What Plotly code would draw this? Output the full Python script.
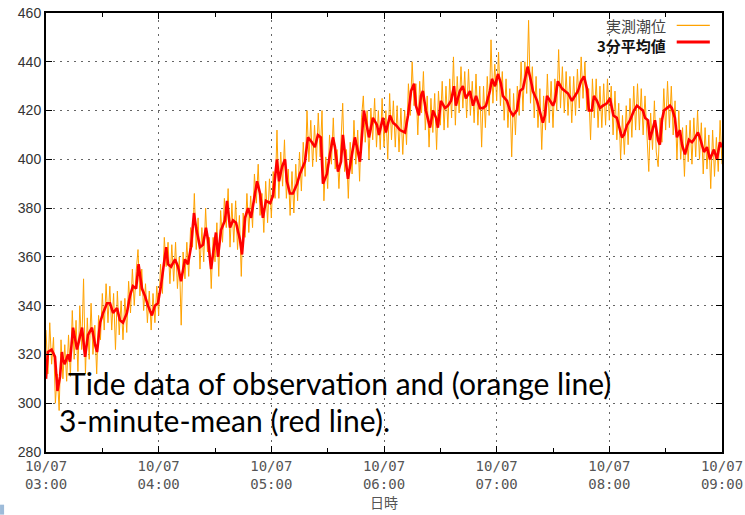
import pandas as pd
import plotly.graph_objects as go

# ---------------- data ----------------
start = pd.Timestamp("2019-10-07 03:00")
end = pd.Timestamp("2019-10-07 09:00")

# 3-minute mean (red) : minutes after 03:00 and tide level (cm)
red_min_h1 = [0, 1, 3, 4.8, 6.1, 7.5, 8.5, 9, 10, 11.7, 12.8, 14.4, 16.5, 18.1, 19.2, 20.8, 22.4, 24.5, 26.1, 27.2,
              28.8, 30.4, 32.5, 34.1, 35.7, 37.8, 39.4, 41, 43.1, 44.7, 46.3, 48, 49.3, 51.1, 52.7, 54.3, 56.4, 58, 59.6]
red_val_h1 = [310, 321, 322, 319, 305, 311, 321, 318, 316, 320, 317, 331, 322, 328, 331, 319, 328, 331, 324, 321,
              333, 337, 341, 341, 337, 339, 334, 333, 337, 344, 348, 347, 357, 347, 344, 340, 336, 340, 341]
red_min_h2 = [61.2, 63, 64, 65, 66.6, 68.7, 70.3, 71.9, 74, 75.6, 77.2, 78.8, 79.9, 82, 83.6, 85.2, 86.3, 87.9, 88.9, 90.5,
              91.6, 93.2, 95.3, 96.4, 98, 99.6, 101.2, 103.3, 104.4, 106, 107.6, 109.2, 111.3, 112.4, 114, 115.5, 117.1, 119.3]
red_val_h2 = [348, 359, 364, 357, 356, 359, 356, 350, 359, 357, 364, 378, 372, 364, 365, 372, 367, 355, 360, 370,
              360, 371, 375, 383, 372, 375, 374, 367, 361, 376, 380, 376, 386, 391, 386, 376, 383, 382]
red_min_h3 = [120.9, 123, 124.1, 125.7, 127.3, 128.3, 129.9, 131.5, 133.7, 135.2, 137.9, 139.5, 141.6, 143.2, 144.8,
              146.4, 147.5, 149.6, 151.2, 152.8, 153.9, 155.5, 157.1, 158.1, 159.7, 160.8, 162.9, 164.5, 165.6, 167.2,
              169.3, 170.9, 172, 174.1, 176.3, 177.3, 179.4]
red_val_h3 = [385, 400, 391, 397, 400, 391, 386, 386, 390, 394, 399, 409, 407, 405, 410,
              409, 390, 394, 402, 409, 405, 395, 399, 410, 399, 392, 402, 409, 405, 399,
              420, 413, 409, 417, 414, 410, 417]
red_min_h4 = [181, 183.2, 184.8, 186.4, 188.5, 191.2, 192.8, 194.4, 196, 197, 198.6, 199.7, 200.7, 202.3, 204.5,
              206.1, 207.7, 208.7, 210.3, 212.5, 214.1, 215.7, 217.3, 218.3, 220.4, 222, 223.6, 225.8, 227.4, 229,
              231.1, 232.7, 234.3, 236.4, 237.5, 239.1, 240.7, 242.3]
red_val_h4 = [411, 418, 415, 414, 412, 411, 418, 428, 431, 422, 418, 426, 428, 420, 413,
              420, 417, 413, 424, 421, 422, 424, 430, 422, 428, 430, 425, 428, 422, 426,
              421, 421, 422, 428, 433, 430, 435, 431]
red_min_h5 = [243.3, 245.5, 247.1, 248.7, 250.8, 252.4, 254, 256.5, 258.3, 259.3, 261.5, 263, 264.6, 265.7, 266.8,
              268.4, 270, 271, 272.6, 274.8, 276.4, 278, 280.1, 281.7, 283.3, 284.9, 286.5, 288.1, 289.1, 290.7,
              291.8, 293.4, 295, 296.6, 298.7, 300.3]
red_val_h5 = [426, 424, 420, 418, 420, 428, 429, 438, 432, 428, 424, 420, 415, 418, 426,
              424, 422, 424, 432, 429, 428, 427, 424, 426, 428, 432, 434, 429, 420, 420,
              426, 424, 421, 422, 423, 425]
red_min_h6 = [302.2, 304, 305.6, 306.7, 307.8, 309.4, 311, 313.1, 314.7, 316.3, 317.9, 319, 320.6, 321.6, 323.2,
              324.3, 325.9, 326.9, 328, 329.1, 330.7, 332.3, 333.3, 334.9, 336, 337.6, 338.7, 340.3, 342.4, 344,
              345, 347.2, 348.2, 350.4, 352, 353.6, 355.7, 357.3, 358.9, 360]
red_val_h6 = [418, 417, 412, 409, 410, 414, 416, 420, 422, 421, 420, 417, 416, 408, 413,
              416, 408, 406, 416, 420, 421, 422, 421, 417, 409, 412, 406, 402, 408, 407,
              408, 411, 409, 403, 405, 400, 404, 400, 407, 405]

# observed tide (orange) : one value per minute from 03:00 to 09:00
obs_h1 = [330, 312, 333, 316, 327, 300, 312, 297, 326, 310, 324, 309, 328, 311, 338, 318, 334, 313, 340, 322,
          351, 312, 335, 318, 341, 320, 332, 312, 336, 326, 345, 330, 349, 333, 348, 330, 345, 322, 346, 328,
          342, 326, 343, 329, 350, 337, 355, 340, 354, 363, 344, 355, 338, 349, 333, 346, 330, 345, 333, 348]
obs_h2 = [336, 357, 345, 368, 356, 366, 349, 365, 350, 366, 347, 360, 332, 362, 351, 366, 352, 372, 364, 386,
          363, 376, 355, 372, 358, 380, 362, 368, 347, 368, 358, 374, 352, 379, 366, 384, 372, 388, 364, 382,
          366, 383, 363, 377, 352, 378, 368, 386, 370, 385, 372, 394, 382, 398, 377, 386, 370, 391, 374, 392]
obs_h3 = [376, 395, 384, 412, 384, 403, 389, 408, 384, 396, 377, 395, 378, 398, 383, 403, 387, 407, 393, 420,
          399, 416, 397, 414, 399, 419, 401, 420, 383, 401, 388, 410, 398, 417, 396, 404, 388, 407, 423, 395,
          404, 384, 407, 394, 416, 398, 412, 391, 417, 426, 407, 420, 400, 421, 408, 425, 405, 420, 404, 425]
obs_h4 = [405, 420, 400, 427, 408, 424, 405, 422, 403, 421, 402, 420, 406, 431, 418, 440, 422, 431, 410, 432,
          419, 436, 412, 426, 405, 425, 411, 427, 404, 428, 414, 432, 412, 430, 413, 433, 417, 442, 414, 434,
          419, 438, 421, 436, 417, 437, 418, 432, 415, 435, 414, 430, 405, 430, 413, 434, 418, 449, 423, 439]
obs_h5 = [424, 444, 422, 436, 416, 433, 413, 429, 401, 427, 410, 430, 418, 440, 420, 440, 427, 457, 423, 438,
          417, 434, 413, 429, 404, 426, 412, 435, 415, 432, 413, 433, 420, 445, 421, 438, 419, 436, 418, 434,
          415, 434, 418, 437, 421, 442, 425, 440, 420, 429, 408, 433, 417, 433, 413, 430, 413, 431, 414, 433]
obs_h6 = [416, 430, 410, 428, 408, 423, 400, 418, 402, 422, 406, 425, 409, 430, 412, 431, 412, 429, 410, 426,
          407, 395, 419, 404, 424, 403, 397, 417, 407, 429, 412, 432, 413, 430, 410, 424, 400, 420, 400, 413,
          393, 414, 399, 416, 398, 417, 401, 420, 400, 415, 394, 413, 396, 410, 388, 412, 393, 409, 395, 416,
          398]

tick_hours = ["03:00", "04:00", "05:00", "06:00", "07:00", "08:00", "09:00"]
tick_date = "10/07"
y_ticks = [280, 300, 320, 340, 360, 380, 400, 420, 440, 460]
legend_names = ["実測潮位", "3分平均値"]
x_title = "日時"
caption_lines = ["Tide data of observation and (orange line)", "3-minute-mean (red line)."]

# ---------------- build ----------------
red_min = red_min_h1 + red_min_h2 + red_min_h3 + red_min_h4 + red_min_h5 + red_min_h6
red_val = red_val_h1 + red_val_h2 + red_val_h3 + red_val_h4 + red_val_h5 + red_val_h6
obs_val = obs_h1 + obs_h2 + obs_h3 + obs_h4 + obs_h5 + obs_h6

red_t = [start + pd.Timedelta(minutes=m) for m in red_min]
obs_t = [start + pd.Timedelta(minutes=i) for i in range(len(obs_val))]

tickvals = [pd.Timestamp("2019-10-07 " + h) for h in tick_hours]
ticktext = [f"{tick_date}<br>{h}" for h in tick_hours]
minor_vals = [t + pd.Timedelta(minutes=30) for t in tickvals[:-1]]

ORANGE = "#FFA200"
RED = "#FF0000"

fig = go.Figure()
fig.add_trace(go.Scatter(x=obs_t, y=obs_val, mode="lines", name=legend_names[0],
                         line=dict(color=ORANGE, width=1)))
fig.add_trace(go.Scatter(x=red_t, y=red_val, mode="lines", name=legend_names[1],
                         line=dict(color=RED, width=2.6)))

grid = dict(showgrid=True, gridcolor="#666666", gridwidth=1, griddash="2px,5px",
            showline=True, linecolor="black", linewidth=2, mirror="allticks",
            ticks="inside", tickcolor="black", ticklen=6, zeroline=False, automargin=False)

fig.update_xaxes(type="date", range=[start, end], tickmode="array", tickvals=tickvals, ticktext=ticktext,
                 tickfont=dict(family="DejaVu Sans Mono", size=14, color="#555555"),
                 minor=dict(tickmode="array", tickvals=minor_vals, ticks="inside", ticklen=4,
                            tickcolor="black", showgrid=False),
                 title=dict(text=x_title, font=dict(family="Noto Sans CJK JP", size=14, color="#555555"),
                            standoff=2),
                 **grid)
fig.update_yaxes(range=[280, 460], tickmode="array", tickvals=y_ticks,
                 tickfont=dict(family="Liberation Sans", size=14, color="#333333"),
                 **grid)

# legend drawn gnuplot-style (text left, sample line right)
leg_y = [0.972, 0.926]
fig.add_annotation(xref="paper", yref="paper", x=0.919, y=leg_y[0], text=legend_names[0], showarrow=False,
                   xanchor="right", yanchor="middle", borderpad=0,
                   font=dict(family="Noto Sans CJK JP", size=15, color="#444444"))
fig.add_annotation(xref="paper", yref="paper", x=0.919, y=leg_y[1], text="<b>" + legend_names[1] + "</b>",
                   showarrow=False, xanchor="right", yanchor="middle", borderpad=0,
                   font=dict(family="Noto Sans CJK JP", size=15, color="#111111"))
fig.add_shape(type="line", xref="paper", yref="paper", x0=0.933, x1=0.982, y0=leg_y[0], y1=leg_y[0],
              line=dict(color=ORANGE, width=1.2))
fig.add_shape(type="line", xref="paper", yref="paper", x0=0.933, x1=0.982, y0=leg_y[1] + 0.008,
              y1=leg_y[1] + 0.008, line=dict(color=RED, width=3))

# overlay caption
fig.add_annotation(xref="paper", yref="paper", x=0.031, y=0.158, text=caption_lines[0], showarrow=False,
                   xanchor="left", yanchor="middle", borderpad=0,
                   font=dict(family="Lato", size=30, color="black"))
fig.add_annotation(xref="paper", yref="paper", x=0.0178, y=0.073, text=caption_lines[1], showarrow=False,
                   xanchor="left", yanchor="middle", borderpad=0,
                   font=dict(family="Lato", size=30, color="black"))

# small blue corner mark
fig.add_shape(type="rect", xref="paper", yref="paper", x0=-0.068, x1=-0.062, y0=-0.1426, y1=-0.12,
              line=dict(width=0), fillcolor="#9dbbd9")

fig.update_layout(width=745, height=515, margin=dict(l=46, r=23, t=13, b=63),
                  plot_bgcolor="white", paper_bgcolor="white", showlegend=False)

fig.write_html("out.html")
